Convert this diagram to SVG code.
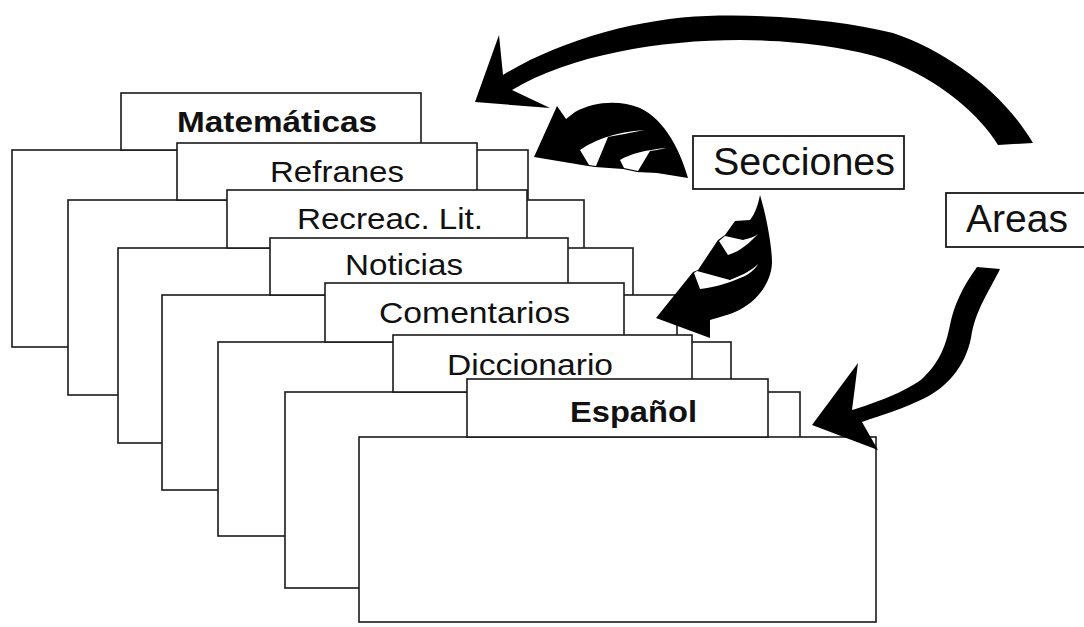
<svg xmlns="http://www.w3.org/2000/svg" width="1084" height="627" viewBox="0 0 1084 627">
<style>
.card{fill:#fff;stroke:#1a1a1a;stroke-width:1.6}
.lbl{font-family:"Liberation Sans",Arial,sans-serif;font-size:30px;fill:#111}
.b{font-weight:bold}
.box{fill:#fff;stroke:#1a1a1a;stroke-width:1.8}
.big{font-family:"Liberation Sans",Arial,sans-serif;font-size:38px;fill:#111}
.arr{fill:#000;stroke:none}
.gap{fill:#fff;stroke:none}
</style>
<rect width="1084" height="627" fill="#fff"/>
<g id="card-matematicas">
<rect class="card" x="12" y="150" width="516" height="197"/>
<rect class="card" x="121" y="93" width="300" height="57"/>
<text class="lbl b" x="177" y="132" textLength="200" lengthAdjust="spacingAndGlyphs">Matemáticas</text>
</g>
<g id="card-refranes">
<rect class="card" x="68" y="200" width="516" height="195"/>
<rect class="card" x="177" y="143" width="300" height="57"/>
<text class="lbl" x="270" y="182" textLength="134" lengthAdjust="spacingAndGlyphs">Refranes</text>
</g>
<g id="card-recreac">
<rect class="card" x="118" y="248" width="515" height="195"/>
<rect class="card" x="227" y="190" width="300" height="58"/>
<text class="lbl" x="297" y="229" textLength="186" lengthAdjust="spacingAndGlyphs">Recreac. Lit.</text>
</g>
<g id="card-noticias">
<rect class="card" x="162" y="295" width="515" height="195"/>
<rect class="card" x="270" y="238" width="298" height="57"/>
<text class="lbl" x="345" y="275" textLength="118" lengthAdjust="spacingAndGlyphs">Noticias</text>
</g>
<g id="card-comentarios">
<rect class="card" x="218" y="342" width="513" height="194"/>
<rect class="card" x="325" y="283" width="299" height="59"/>
<text class="lbl" x="379" y="323" textLength="191" lengthAdjust="spacingAndGlyphs">Comentarios</text>
</g>
<g id="card-diccionario">
<rect class="card" x="285" y="392" width="515" height="196"/>
<rect class="card" x="393" y="335" width="299" height="57"/>
<text class="lbl" x="447" y="375" textLength="166" lengthAdjust="spacingAndGlyphs">Diccionario</text>
</g>
<g id="card-espanol">
<rect class="card" x="359" y="437" width="517" height="185"/>
<rect class="card" x="467" y="379" width="301" height="58"/>
<text class="lbl b" x="570" y="422" textLength="127" lengthAdjust="spacingAndGlyphs">Español</text>
</g>
<g id="node-secciones">
<rect class="box" x="693" y="136" width="211" height="53"/>
<text class="big" x="713" y="175" textLength="182" lengthAdjust="spacingAndGlyphs">Secciones</text>
</g>
<g id="node-areas">
<rect class="box" x="946" y="193" width="150" height="54"/>
<text class="big" x="966" y="232" textLength="102" lengthAdjust="spacingAndGlyphs">Areas</text>
</g>
<g id="connectors">
<path class="arr" d="M475,102 L499,35 L503,75 C560,40 640,18 707,16 C770,14 840,20 893,33 C950,52 1005,95 1033,143 L998,145 C980,115 940,80 887,60 C850,47 790,40 740,40 C660,40 570,55 512,90 L550,108 Z"/>
<path class="arr" d="M688,178 C680,150 665,120 640,108 C620,100 595,101 575,112 L566,119 L557,106 L534,157 L588,166 L595,167 L623,169 L637,172 L657,173 L688,178 Z"/>
<path class="gap" d="M589,165 L580,150 C595,140 615,132 645,130 C630,133 618,135 608,137 L596,166 Z"/>
<path class="gap" d="M624,168 L620,160 C630,154 645,150 666,148 C658,150 655,150 650,151 L638,171 Z"/>
<path class="arr" d="M760,195 C766,215 772,245 772,263 C771,285 755,303 735,312 C725,316 716,318 710,320 L710,338 L656,318 L693,272 L698,270 L718,240 L725,235 L735,221 L750,220 C755,214 758,205 760,195 Z"/>
<path class="gap" d="M694,273 L700,289 C710,288 725,285 745,276 C752,272 756,268 758,264 C752,270 745,274 730,280 L697,271 Z"/>
<path class="gap" d="M719,241 L728,255 C735,253 745,248 758,234 C754,237 750,238 743,240 L725,236 Z"/>
<path class="arr" d="M977,267 L1000,269 C990,290 975,310 971,338 C965,368 945,388 925,398 C905,408 882,415 862,422 L878,450 L812,425 L858,363 L852,410 C875,403 905,392 922,379 C940,362 946,345 950,325 C954,305 962,288 977,267 Z"/>
</g>
</svg>
